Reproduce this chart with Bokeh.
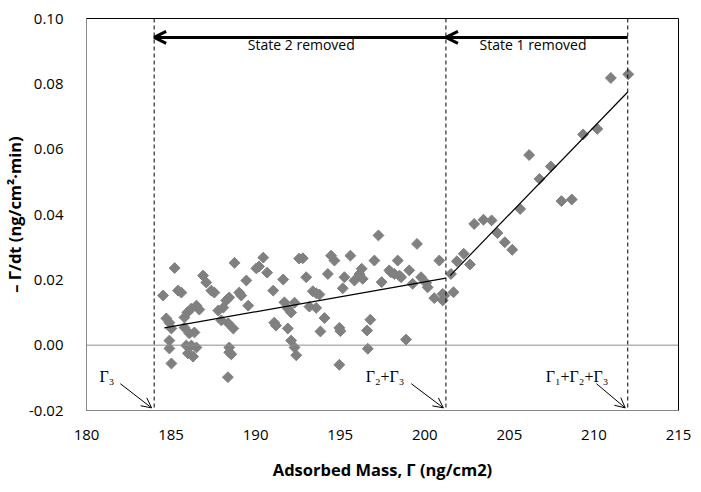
from bokeh.plotting import figure
from bokeh.models import (Span, Arrow, OpenHead, Label, FixedTicker, NumeralTickFormatter,
                          ColumnDataSource, Range1d)
from bokeh.embed import file_html
from bokeh.resources import INLINE
import math

# ---------------- data ----------------
mass = [184.53, 185.21, 185.41, 185.61, 184.72, 184.90, 185.02, 184.90, 184.90, 185.02,
        185.79, 185.96, 186.20, 186.50, 186.67, 185.79, 186.08, 186.38, 185.90, 186.20,
        186.50, 186.00, 186.30, 186.89, 187.08, 187.38, 187.56, 187.79, 187.97, 188.09,
        188.26, 188.44, 188.38, 188.68, 188.44, 188.44, 188.56, 188.36, 188.75, 189.03,
        189.15, 189.45, 189.56, 190.04, 190.20, 190.45, 190.68, 191.04, 191.10, 191.20,
        191.63, 191.70, 191.90, 192.10, 191.90, 192.10, 192.30, 192.40, 192.57, 192.30,
        192.79, 192.99, 193.38, 193.58, 193.77, 193.18, 193.58, 194.07, 193.83, 194.27,
        194.46, 194.66, 194.95, 195.01, 194.95, 195.25, 195.15, 195.60, 195.84, 196.14,
        196.27, 196.33, 196.78, 196.59, 196.63, 197.02, 197.26, 197.45, 197.90, 198.00,
        198.20, 198.40, 198.50, 198.60, 199.08, 198.89, 199.54, 199.28, 199.78, 200.17,
        200.08, 200.56, 200.86, 201.06, 201.16, 201.06,
        201.70, 201.55, 201.90, 202.30, 202.67, 202.92, 203.47, 203.95, 204.30, 204.73,
        205.17, 205.64, 206.17, 206.78, 207.45, 208.08, 208.69, 209.36, 210.20, 211.00,
        212.03]
rate = [0.0152, 0.0236, 0.0167, 0.0161, 0.0082, 0.0069, 0.0051, 0.0014, -0.0010, -0.0056,
        0.0085, 0.0100, 0.0112, 0.0121, 0.0109, 0.0054, 0.0036, 0.0039, -0.0001, -0.0001,
        -0.0007, -0.0025, -0.0035, 0.0213, 0.0192, 0.0167, 0.0161, 0.0106, 0.0076, 0.0115,
        0.0137, 0.0146, 0.0067, 0.0051, -0.0007, -0.0022, -0.0028, -0.0098, 0.0252, 0.0161,
        0.0152, 0.0198, 0.0121, 0.0235, 0.0241, 0.0268, 0.0222, 0.0167, 0.0069, 0.0060,
        0.0201, 0.0131, 0.0112, 0.0100, 0.0051, 0.0014, -0.0007, -0.0031, 0.0265, 0.0130,
        0.0266, 0.0208, 0.0165, 0.0159, 0.0155, 0.0118, 0.0114, 0.0083, 0.0042, 0.0218,
        0.0274, 0.0259, 0.0053, 0.0043, -0.0060, 0.0208, 0.0174, 0.0274, 0.0198, 0.0218,
        0.0234, 0.0203, 0.0078, 0.0045, -0.0011, 0.0259, 0.0336, 0.0193, 0.0229, 0.0223,
        0.0218, 0.0259, 0.0213, 0.0208, 0.0229, 0.0017, 0.0310, 0.0188, 0.0208, 0.0177,
        0.0190, 0.0144, 0.0259, 0.0137, 0.0152, 0.0157,
        0.0162, 0.0218, 0.0257, 0.0280, 0.0247, 0.0371, 0.0384, 0.0382, 0.0343, 0.0315,
        0.0292, 0.0417, 0.0582, 0.0509, 0.0547, 0.0441, 0.0446, 0.0645, 0.0662, 0.0818,
        0.0829]

fit1_x = [184.6, 201.25]
fit1_y = [0.0053, 0.0205]
fit2_x = [201.5, 212.0]
fit2_y = [0.0213, 0.0775]

boundaries = [184.0, 201.25, 212.0]          # Γ3, Γ2+Γ3, Γ1+Γ2+Γ3
boundary_labels = ["Γ₃", "Γ₂+Γ₃", "Γ₁+Γ₂+Γ₃"]
label_x = [181.2, 197.65, 209.0]
label_y = -0.0096
arrow_start_x = [182.0, 199.2, 210.15]
arrow_start_y = -0.0118

removal_y = 0.0942
removal_texts = ["State 1 removed", "State 2 removed"]
removal_text_x = [206.4, 192.7]
removal_text_y = 0.0921

x_ticks = [180, 185, 190, 195, 200, 205, 210, 215]
y_ticks = [-0.02, 0.0, 0.02, 0.04, 0.06, 0.08, 0.10]

# ---------------- figure ----------------
p = figure(width=693, height=484, output_backend="svg", toolbar_location=None,
           x_range=Range1d(180, 215), y_range=Range1d(-0.02, 0.10),
           min_border_left=85, min_border_top=18, min_border_right=15, min_border_bottom=74)
p.xgrid.visible = False
p.ygrid.visible = False
p.outline_line_color = "black"
p.outline_line_width = 1
p.background_fill_color = "white"
p.border_fill_color = "white"

FONT = "Open Sans"
for ax in (p.xaxis[0], p.yaxis[0]):
    ax.major_tick_line_color = None
    ax.minor_tick_line_color = None
    ax.axis_line_color = "#868686"
    ax.major_label_text_font = FONT
    ax.major_label_text_font_size = "15px"
    ax.major_label_text_color = "black"
    ax.axis_label_text_font = FONT
    ax.axis_label_text_font_size = "16.5px"
    ax.axis_label_text_font_style = "bold"
    ax.axis_label_text_color = "black"

p.xaxis.ticker = FixedTicker(ticks=x_ticks)
p.yaxis.ticker = FixedTicker(ticks=y_ticks)
p.yaxis.formatter = NumeralTickFormatter(format="0.00")
p.xaxis.axis_label = "Adsorbed Mass, Γ (ng/cm2)"
p.yaxis.axis_label = "– Γ/dt (ng/cm²·min)"
p.xaxis.major_label_standoff = 13
p.yaxis.major_label_standoff = 17
p.xaxis.axis_label_standoff = 15
p.yaxis.axis_label_standoff = 0

# zero line
p.add_layout(Span(location=0, dimension="width", line_color="#8c8c8c", line_width=1))

# boundaries
for b in boundaries:
    p.add_layout(Span(location=b, dimension="height", line_color="black",
                      line_width=1, line_dash="4 3"))

# scatter
src = ColumnDataSource(dict(x=mass, y=rate))
p.scatter("x", "y", source=src, marker="square", size=7.7, angle=math.pi / 4,
          fill_color="#808080", line_color="#808080")

# fit lines
p.line(fit1_x, fit1_y, line_color="black", line_width=1.2)
p.line(fit2_x, fit2_y, line_color="black", line_width=1.2)

# removal arrows
p.add_layout(Arrow(x_start=boundaries[2], y_start=removal_y, x_end=boundaries[1], y_end=removal_y,
                   line_width=3, line_color="black",
                   end=OpenHead(size=12, line_width=3, line_color="black")))
p.add_layout(Arrow(x_start=boundaries[1], y_start=removal_y, x_end=boundaries[0], y_end=removal_y,
                   line_width=3, line_color="black",
                   end=OpenHead(size=12, line_width=3, line_color="black")))
for t, tx in zip(removal_texts, removal_text_x):
    p.add_layout(Label(x=tx, y=removal_text_y, text=t, text_align="center",
                       text_baseline="middle", text_font=FONT, text_font_size="14px",
                       text_color="black"))

# boundary labels with arrows
for b, lab, lx, sx in zip(boundaries, boundary_labels, label_x, arrow_start_x):
    p.add_layout(Label(x=lx, y=label_y, text=lab, text_align="center",
                       text_baseline="middle", text_font="Liberation Serif",
                       text_font_size="16px", text_color="black"))
    p.add_layout(Arrow(x_start=sx, y_start=arrow_start_y, x_end=b - 0.15, y_end=-0.0192,
                       line_width=1, line_color="black",
                       end=OpenHead(size=10, line_width=1, line_color="black")))

open("out.html", "w").write(file_html(p, INLINE))
